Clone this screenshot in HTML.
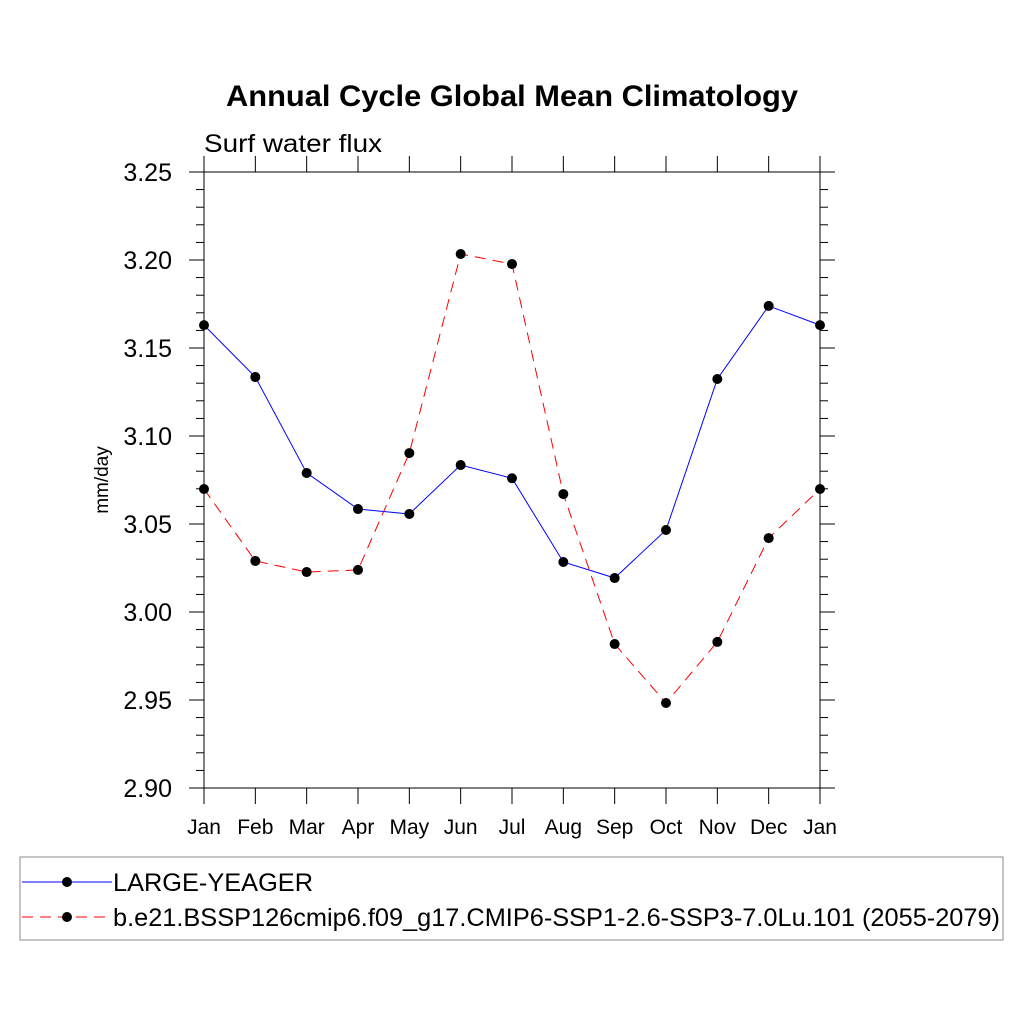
<!DOCTYPE html>
<html><head><meta charset="utf-8"><style>
body{margin:0;background:#fff}
svg{display:block;font-family:"Liberation Sans",sans-serif}
</style></head><body>
<svg id="chart" width="1024" height="1024" viewBox="0 0 1024 1024">
<text x="226" y="106" textLength="572" lengthAdjust="spacingAndGlyphs" font-size="30" font-weight="bold">Annual Cycle Global Mean Climatology</text>
<text x="204" y="152" textLength="178" lengthAdjust="spacingAndGlyphs" font-size="25">Surf water flux</text>
<text transform="translate(108,480) rotate(-90)" text-anchor="middle" font-size="19">mm/day</text>
<g id="axes"></g>
<g id="series"></g>
<g>
<rect x="20" y="857" width="983" height="83" fill="none" stroke="#888" stroke-width="1"/>
<line x1="22" y1="882" x2="112" y2="882" stroke="blue" stroke-width="1"/>
<circle cx="67" cy="882" r="5" fill="#000"/>
<text x="113" y="891" textLength="200" lengthAdjust="spacingAndGlyphs" font-size="25">LARGE-YEAGER</text>
<line x1="22" y1="917" x2="112" y2="917" stroke="red" stroke-width="1" stroke-dasharray="11,7"/>
<circle cx="67" cy="917" r="5" fill="#000"/>
<text x="113" y="926" textLength="887" lengthAdjust="spacingAndGlyphs" font-size="25">b.e21.BSSP126cmip6.f09_g17.CMIP6-SSP1-2.6-SSP3-7.0Lu.101 (2055-2079)</text>
</g>
</svg>
<script>
const months=["Jan","Feb","Mar","Apr","May","Jun","Jul","Aug","Sep","Oct","Nov","Dec","Jan"];
const seriesA=[3.163,3.1335,3.079,3.0585,3.0557,3.0835,3.076,3.0284,3.0193,3.0466,3.1324,3.1739,3.163];
const seriesB=[3.0699,3.029,3.0227,3.0239,3.0903,3.2034,3.1977,3.067,2.9818,2.9483,2.983,3.042,3.0699];
const yTicks=["2.90","2.95","3.00","3.05","3.10","3.15","3.20","3.25"];
const L=204,R=820,T=172,B=788,ymin=2.9,ymax=3.25;
const xs=i=>L+(R-L)*i/(months.length-1);
const ys=v=>B-(v-ymin)/(ymax-ymin)*(B-T);
const NS="http://www.w3.org/2000/svg";
function mk(t,a,p){const e=document.createElementNS(NS,t);for(const k in a)e.setAttribute(k,a[k]);p.appendChild(e);return e;}
const ax=document.getElementById('axes'),sg=document.getElementById('series');
const frame=mk('rect',{x:L,y:T,width:R-L,height:B-T,fill:'none',stroke:'#000','stroke-width':1},ax);


for(let i=0;i<months.length;i++){const x=xs(i);
mk('line',{x1:x,y1:B,x2:x,y2:B+16,stroke:'#000'},ax);
mk('line',{x1:x,y1:T,x2:x,y2:T-16,stroke:'#000'},ax);
const t=mk('text',{x:x,y:B+46,'text-anchor':'middle','font-size':21},ax);t.textContent=months[i];

}
for(let v=0;v<=35;v++){const y=ys(ymin+v*0.01);const maj=v%5==0;const len=maj?15:8;
mk('line',{x1:L,y1:y,x2:L-len,y2:y,stroke:'#000'},ax);
mk('line',{x1:R,y1:y,x2:R+len,y2:y,stroke:'#000'},ax);}
yTicks.forEach(s=>{const t=mk('text',{x:172,y:ys(parseFloat(s))+9,'text-anchor':'end','font-size':25},ax);t.textContent=s;

});
function draw(d,col,dash,name){
const p=mk('polyline',{points:d.map((v,i)=>xs(i)+','+ys(v)).join(' '),fill:'none',stroke:col,'stroke-width':1,'stroke-dasharray':dash},sg);


d.forEach((v,i)=>{const c=mk('circle',{cx:xs(i),cy:ys(v),r:5,fill:'#000'},sg);

});}
draw(seriesA,'blue','none','large-yeager');
draw(seriesB,'red','11,7','ssp');
</script>
</body></html>
